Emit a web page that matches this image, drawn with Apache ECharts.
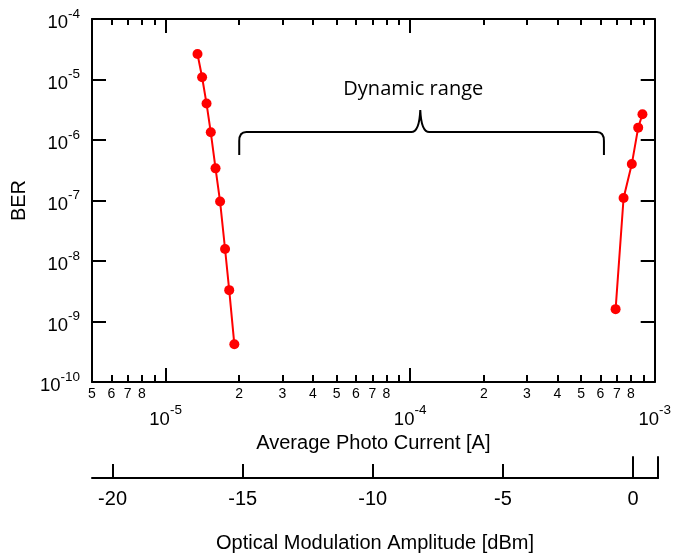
<!DOCTYPE html>
<html><head><meta charset="utf-8">
<script src="https://cdn.jsdelivr.net/npm/echarts@6/dist/echarts.min.js"></script>
<style>html,body{margin:0;padding:0;background:#fff}#c{width:674px;height:557px}</style>
</head><body><div id="c"></div>
<script>
// ---- data ----
const leftCurrent = [1.35e-5, 1.41e-5, 1.47e-5, 1.53e-5, 1.60e-5, 1.67e-5, 1.75e-5, 1.82e-5, 1.91e-5];
const leftBER = [2.64e-5, 1.09e-5, 4.0e-6, 1.34e-6, 3.4e-7, 9.6e-8, 1.58e-8, 3.3e-9, 4.2e-10];
const rightCurrent = [6.92e-4, 7.46e-4, 8.06e-4, 8.56e-4, 8.91e-4];
const rightBER = [1.6e-9, 1.1e-7, 4.0e-7, 1.6e-6, 2.66e-6];
const xDecadeTicks = [1e-5, 1e-4, 1e-3];
const xMinorTicks = [6e-6, 7e-6, 8e-6, 9e-6, 2e-5, 3e-5, 4e-5, 5e-5, 6e-5, 7e-5, 8e-5, 9e-5, 2e-4, 3e-4, 4e-4, 5e-4, 6e-4, 7e-4, 8e-4, 9e-4];
const xMinorLabels = [5e-6, 6e-6, 7e-6, 8e-6, 2e-5, 3e-5, 4e-5, 5e-5, 6e-5, 7e-5, 8e-5, 2e-4, 3e-4, 4e-4, 5e-4, 6e-4, 7e-4, 8e-4];
const yDecadeTicks = [1e-10, 1e-9, 1e-8, 1e-7, 1e-6, 1e-5, 1e-4];
const omaTicks = [-20, -15, -10, -5, 0];
const braceText = 'Dynamic range';
const braceRange = [2e-5, 6.2e-4, 1.1e-4, 1.35e-6]; // from, to, peak, level

// ---- chart ----
const FONT = '"Liberation Sans", Arial, sans-serif';
const chart = echarts.init(document.getElementById('c'), null, {renderer: 'canvas'});
const black = '#000';
const decadeFmt = v => '{b|10}{s|' + Math.round(Math.log10(v)) + '}';
const mantFmt = v => { const e = Math.floor(Math.log10(v) + 1e-9); return String(Math.round(v / Math.pow(10, e))); };
const rich = {
  b: {fontSize: 18.5, fontFamily: FONT, color: black, padding: [8, 0, 0, 0]},
  s: {fontSize: 13.5, fontFamily: FONT, color: black, padding: [0, 0, 10, 0]}
};
const logX = {gridIndex: 0, type: 'log', logBase: 10, min: 5e-6, max: 1e-3, splitLine: {show: false}};
const lineStyle = {color: black, width: 2};

const option = {
  animation: false,
  backgroundColor: '#fff',
  textStyle: {fontFamily: FONT, color: black},
  grid: [
    {left: 92, top: 19, width: 566, height: 363},
    {left: 92, top: 457, width: 566, height: 21}
  ],
  xAxis: [
    Object.assign({}, logX, {
      position: 'bottom',
      axisLine: {show: true, lineStyle},
      axisTick: {show: true, inside: true, length: 14, lineStyle, customValues: xDecadeTicks},
      axisLabel: {show: true, customValues: xDecadeTicks, formatter: decadeFmt, rich, margin: 20},
      name: 'Average Photo Current [A]', nameLocation: 'middle', nameGap: 49,
      nameTextStyle: {fontSize: 20, fontFamily: FONT, color: black}
    }),
    Object.assign({}, logX, {
      position: 'bottom',
      axisLine: {show: false},
      axisTick: {show: true, inside: true, length: 7, lineStyle, customValues: xMinorTicks},
      axisLabel: {show: true, customValues: xMinorLabels, formatter: mantFmt, fontSize: 14, color: black, margin: 5}
    }),
    Object.assign({}, logX, {
      position: 'top',
      axisLine: {show: true, lineStyle},
      axisTick: {show: true, inside: true, length: 14, lineStyle, customValues: xDecadeTicks},
      axisLabel: {show: false}
    }),
    Object.assign({}, logX, {
      position: 'top',
      axisLine: {show: false},
      axisTick: {show: true, inside: true, length: 6, lineStyle, customValues: xMinorTicks},
      axisLabel: {show: false}
    }),
    {
      gridIndex: 1, type: 'value', min: -20.79, max: 0.96, position: 'bottom',
      splitLine: {show: false},
      axisLine: {show: true, lineStyle},
      axisTick: {show: true, inside: true, length: 14, lineStyle, customValues: omaTicks},
      axisLabel: {show: true, customValues: omaTicks, fontSize: 20, color: black, margin: 11},
      name: 'Optical Modulation Amplitude [dBm]', nameLocation: 'middle', nameGap: 55,
      nameTextStyle: {fontSize: 20, fontFamily: FONT, color: black}
    }
  ],
  yAxis: [
    {
      gridIndex: 0, type: 'log', logBase: 10, min: 1e-10, max: 1e-4, position: 'left',
      splitLine: {show: false},
      axisLine: {show: true, lineStyle},
      axisTick: {show: true, inside: true, length: 14, lineStyle, customValues: yDecadeTicks},
      axisLabel: {show: true, customValues: yDecadeTicks, formatter: decadeFmt, rich, margin: 12},
      name: 'BER', nameLocation: 'middle', nameGap: 57,
      nameTextStyle: {fontSize: 20, fontFamily: FONT, color: black}
    },
    {
      gridIndex: 0, type: 'log', logBase: 10, min: 1e-10, max: 1e-4, position: 'right',
      splitLine: {show: false},
      axisLine: {show: true, lineStyle},
      axisTick: {show: true, inside: true, length: 14, lineStyle, customValues: yDecadeTicks},
      axisLabel: {show: false}
    },
    {gridIndex: 1, type: 'value', min: 0, max: 1, position: 'left', splitLine: {show: false},
      axisLine: {show: true, lineStyle}, axisTick: {show: false}, axisLabel: {show: false}},
    {gridIndex: 1, type: 'value', min: 0, max: 1, position: 'right', splitLine: {show: false},
      axisLine: {show: true, lineStyle}, axisTick: {show: false}, axisLabel: {show: false}}
  ],
  series: [
    {
      type: 'line', xAxisIndex: 0, yAxisIndex: 0,
      data: leftCurrent.map((x, i) => [x, leftBER[i]]),
      symbol: 'circle', symbolSize: 10,
      itemStyle: {color: '#ff0000'}, lineStyle: {color: '#ff0000', width: 2}, z: 5
    },
    {
      type: 'line', xAxisIndex: 0, yAxisIndex: 0,
      data: rightCurrent.map((x, i) => [x, rightBER[i]]),
      symbol: 'circle', symbolSize: 10,
      itemStyle: {color: '#ff0000'}, lineStyle: {color: '#ff0000', width: 2}, z: 5
    },
    {
      type: 'custom', xAxisIndex: 0, yAxisIndex: 0,
      data: [braceRange],
      encode: {x: 0, y: 3},
      renderItem: (params, api) => {
        const L = api.coord([api.value(0), api.value(3)]);
        const R = api.coord([api.value(1), api.value(3)]);
        const P = api.coord([api.value(2), api.value(3)]);
        const y = L[1], x1 = L[0], x3 = R[0], px = P[0];
        const d = [
          'M', x1, y + 23, 'L', x1, y + 9, 'Q', x1, y, x1 + 7, y,
          'L', px - 9, y, 'Q', px - 1, y, px, y - 22, 'Q', px + 1, y, px + 9, y,
          'L', x3 - 7, y, 'Q', x3, y, x3, y + 9, 'L', x3, y + 23
        ].join(' ');
        return {
          type: 'group',
          children: [
            {type: 'path', shape: {pathData: d}, style: {fill: null, stroke: black, lineWidth: 2}},
            {type: 'text', style: {text: braceText, x: px - 7, y: y - 43, align: 'center', verticalAlign: 'middle',
              font: '20px "Open Sans", sans-serif', fill: black}}
          ]
        };
      }
    }
  ]
};
chart.setOption(option);
</script></body></html>
